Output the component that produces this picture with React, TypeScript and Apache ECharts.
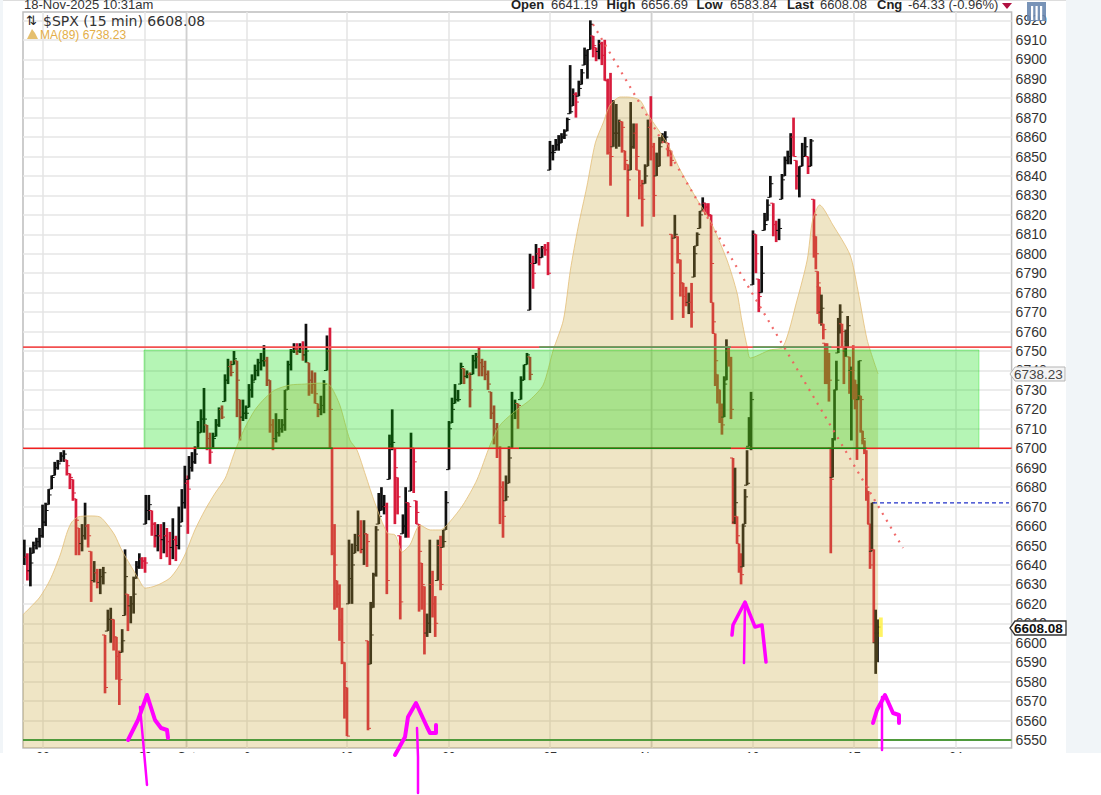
import React, { useEffect, useRef } from "react";
import * as echarts from "echarts";

// x unit: 15-minute bar number counted from Monday 22 Sep (26 bars a session)
const xTickBars = [0, 131, 184, 262, 390, 521, 651, 781, 911, 1041, 1172];
const xTickLabels = ["22", "29", "Oct", "6", "13", "20", "27", "Nov", "10", "17", "24"];
const monthBars = [184, 781];
const yTicks = [6550, 6560, 6570, 6580, 6590, 6600, 6610, 6620, 6630, 6640, 6650, 6660, 6670, 6680, 6690, 6700, 6710, 6720, 6730, 6740, 6750, 6760, 6770, 6780, 6790, 6800, 6810, 6820, 6830, 6840, 6850, 6860, 6870, 6880, 6890, 6900, 6910, 6920];

// MA(89): [bar, value]
const ma89 = [[-26, 6614.3], [-17, 6617.9], [-4, 6623.5], [9, 6632.3], [22, 6645.1], [31, 6656.9], [37, 6662.1], [45, 6664.7], [60, 6665.2], [73, 6664.7], [83, 6660.5], [92, 6655.4], [101, 6647.7], [112, 6640], [122, 6633.3], [131, 6628.1], [140, 6628.7], [150, 6630.2], [163, 6633.3], [173, 6638.4], [182, 6645.1], [195, 6658], [208, 6668.3], [221, 6677], [234, 6684.7], [246, 6698.1], [259, 6710.4], [272, 6719.7], [285, 6725.8], [298, 6730], [317, 6732.5], [336, 6733], [356, 6733.5], [368, 6732.5], [381, 6722.2], [394, 6704.2], [403, 6699.1], [414, 6686.2], [426, 6671.9], [442, 6656.4], [452, 6655.4], [461, 6646.7], [471, 6650.3], [484, 6660.5], [497, 6658], [510, 6658], [522, 6662.1], [539, 6670.8], [557, 6683.7], [574, 6701.7], [587, 6712], [608, 6719.7], [625, 6724.8], [642, 6732.5], [655, 6750.5], [668, 6765.9], [677, 6791.6], [687, 6813.8], [698, 6834.3], [709, 6857], [719, 6867.2], [728, 6876.5], [741, 6880.6], [750, 6880.6], [766, 6879], [777, 6871.3], [801, 6857], [818, 6843.1], [840, 6827.6], [856, 6817.4], [878, 6796.8], [891, 6779.8], [897, 6765.9], [904, 6752.1], [908, 6746.4], [933, 6750.5], [950, 6752.1], [968, 6776.2], [981, 6796.8], [988, 6817.4], [997, 6825.1], [1014, 6814.8], [1036, 6799.4], [1046, 6781.4], [1058, 6755.7], [1072, 6738.23]];

// Price runs: rows are [close, high, low]
const runA = [[6644, 6653, 6640], [6637, 6646, 6632], [6641, 6649, 6629], [6650, 6652, 6646], [6652, 6654, 6648], [6655, 6659, 6649], [6662, 6671, 6654], [6668, 6672, 6660], [6676, 6679, 6671], [6685, 6686, 6679], [6690, 6693, 6686], [6692, 6694, 6689], [6696, 6698, 6693], [6697, 6699, 6693], [6691, 6694, 6686], [6685, 6687, 6679], [6677, 6684, 6673], [6663, 6674, 6645], [6651, 6659, 6645], [6655, 6661, 6647], [6660, 6672, 6653], [6655, 6661, 6649], [6632, 6647, 6621], [6636, 6642, 6631], [6631, 6638, 6628], [6634, 6638, 6625], [6636, 6639, 6630]];
const runB = [[6577, 6604, 6574], [6612, 6617, 6606], [6612, 6618, 6600], [6603, 6612, 6596], [6593, 6603, 6581], [6581, 6596, 6568], [6601, 6607, 6595], [6634, 6648, 6614], [6619, 6625, 6606], [6620, 6624, 6610], [6625, 6634, 6615], [6639, 6642, 6633], [6643, 6646, 6638], [6642, 6644, 6638], [6641, 6644, 6636]];
const runC = [[6668, 6676, 6661], [6671, 6676, 6663], [6661, 6668, 6655], [6655, 6662, 6649], [6655, 6661, 6647], [6653, 6661, 6643], [6655, 6662, 6646], [6652, 6659, 6644], [6649, 6657, 6640], [6653, 6664, 6643], [6650, 6655, 6642], [6660, 6670, 6648], [6672, 6679, 6662], [6682, 6691, 6669], [6679, 6686, 6656]];
const runD = [[6690, 6696, 6684], [6693, 6698, 6688], [6697, 6701, 6692], [6708, 6714, 6700], [6715, 6720, 6708], [6715, 6731, 6708], [6705, 6712, 6699], [6698, 6708, 6692], [6705, 6708, 6700], [6712, 6715, 6706], [6720, 6721, 6711], [6716, 6722, 6715], [6735, 6738, 6724], [6742, 6746, 6733], [6739, 6745, 6737], [6746, 6750, 6743], [6735, 6745, 6716], [6716, 6725, 6704], [6718, 6725, 6714], [6718, 6722, 6715], [6730, 6733, 6721], [6734, 6738, 6726], [6740, 6743, 6735], [6744, 6746, 6737], [6745, 6749, 6740], [6745, 6753, 6742], [6735, 6747, 6732], [6712, 6735, 6708], [6705, 6715, 6699], [6708, 6718, 6703], [6710, 6715, 6706], [6712, 6715, 6708], [6720, 6730, 6709], [6743, 6745, 6730], [6750, 6751, 6740], [6751, 6754, 6749], [6750, 6754, 6748], [6752, 6754, 6749], [6748, 6755, 6745], [6750, 6764, 6744], [6735, 6744, 6727], [6733, 6740, 6728], [6728, 6739, 6723], [6720, 6723, 6716], [6722, 6727, 6717], [6733, 6735, 6718], [6750, 6758, 6740], [6720, 6762, 6700]];
const runE = [[6646, 6700, 6645], [6640, 6661, 6617], [6625, 6632, 6618], [6612, 6630, 6601], [6600, 6618, 6589], [6580, 6590, 6561], [6552, 6577, 6552]];
const runF = [[6633, 6653, 6620], [6640, 6651, 6620], [6650, 6656, 6646], [6655, 6668, 6647], [6648, 6663, 6646], [6656, 6663, 6640], [6652, 6656, 6639]];
const runG = [[6556, 6601, 6555], [6604, 6621, 6589], [6635, 6636, 6618], [6658, 6660, 6634], [6665, 6677, 6661], [6670, 6680, 6668], [6670, 6676, 6666], [6632, 6672, 6625], [6702, 6707, 6684], [6703, 6720, 6699], [6690, 6700, 6661], [6675, 6685, 6666], [6621, 6655, 6612], [6660, 6666, 6656], [6672, 6680, 6654], [6670, 6672, 6654], [6700, 6708, 6678], [6693, 6700, 6677], [6667, 6673, 6661], [6647, 6661, 6616], [6630, 6641, 6617], [6605, 6629, 6594], [6610, 6615, 6603], [6630, 6653, 6605], [6620, 6637, 6613], [6610, 6624, 6603], [6650, 6653, 6632], [6630, 6655, 6627], [6652, 6658, 6649], [6672, 6678, 6658]];
const runH = [[6710, 6714, 6689], [6720, 6726, 6713], [6725, 6733, 6723], [6725, 6730, 6724], [6742, 6744, 6733], [6737, 6741, 6733], [6738, 6740, 6736], [6730, 6739, 6721], [6745, 6748, 6738], [6747, 6749, 6741], [6744, 6752, 6737], [6742, 6746, 6737], [6738, 6745, 6735], [6733, 6740, 6730], [6718, 6729, 6715], [6710, 6722, 6702], [6700, 6713, 6695], [6680, 6701, 6661], [6665, 6683, 6654], [6675, 6686, 6673], [6695, 6701, 6682], [6718, 6729, 6700], [6723, 6725, 6715], [6722, 6723, 6710], [6735, 6737, 6725], [6743, 6743, 6735], [6748, 6749, 6743], [6738, 6747, 6735]];
const runI = [[6795, 6800, 6771], [6790, 6799, 6782], [6800, 6805, 6795], [6798, 6803, 6794], [6803, 6804, 6798], [6802, 6805, 6799], [6790, 6806, 6789]];
const runJ = [[6852, 6858, 6843], [6852, 6856, 6848], [6856, 6859, 6853], [6857, 6861, 6853], [6860, 6862, 6857], [6861, 6864, 6859], [6869, 6870, 6863], [6873, 6897, 6872], [6882, 6885, 6876], [6878, 6883, 6870], [6885, 6889, 6881], [6893, 6895, 6887], [6902, 6906, 6897], [6905, 6905, 6890], [6918, 6920, 6905], [6907, 6912, 6901], [6904, 6906, 6899], [6908, 6910, 6900], [6902, 6909, 6897], [6889, 6910, 6889], [6852, 6890, 6851], [6850, 6893, 6835], [6862, 6879, 6855], [6862, 6877, 6854], [6868, 6869, 6855], [6865, 6868, 6852], [6848, 6853, 6843], [6838, 6846, 6819], [6855, 6878, 6843], [6862, 6867, 6854], [6850, 6867, 6843], [6835, 6843, 6828], [6828, 6838, 6814], [6840, 6846, 6836], [6865, 6869, 6845], [6855, 6881, 6848], [6830, 6857, 6819], [6845, 6852, 6840], [6855, 6860, 6845], [6860, 6862, 6857], [6860, 6863, 6857], [6853, 6857, 6850], [6848, 6853, 6845]];
const runK = [[6790, 6810, 6766], [6810, 6820, 6808], [6800, 6809, 6795], [6785, 6797, 6778], [6778, 6785, 6767], [6775, 6783, 6773], [6775, 6780, 6769], [6770, 6785, 6762], [6800, 6804, 6788], [6810, 6811, 6804], [6820, 6822, 6813], [6826, 6829, 6822], [6824, 6826, 6820], [6820, 6826, 6819], [6795, 6820, 6775]];
const runL = [[6765, 6775, 6759], [6745, 6759, 6732], [6730, 6738, 6723], [6720, 6730, 6713], [6712, 6723, 6707], [6733, 6737, 6716], [6750, 6756, 6735], [6745, 6752, 6742], [6720, 6747, 6715]];
const runM = [[6662, 6695, 6661], [6672, 6690, 6661], [6655, 6665, 6651], [6638, 6651, 6636], [6635, 6646, 6630], [6660, 6661, 6639], [6675, 6679, 6661], [6682, 6699, 6681], [6710, 6716, 6701], [6725, 6729, 6699]];
const runN = [[6810, 6812, 6784], [6800, 6810, 6790], [6778, 6787, 6770], [6790, 6804, 6780], [6815, 6821, 6812], [6825, 6828, 6817], [6836, 6840, 6829], [6815, 6826, 6809], [6812, 6817, 6806], [6813, 6818, 6807], [6838, 6841, 6828], [6848, 6850, 6840], [6850, 6853, 6846], [6860, 6862, 6846], [6850, 6870, 6850], [6840, 6848, 6833], [6845, 6845, 6829], [6850, 6857, 6845], [6855, 6860, 6850], [6845, 6850, 6841], [6858, 6859, 6845]];
const runO = [[6820, 6828, 6798], [6800, 6809, 6792], [6785, 6791, 6769], [6770, 6783, 6764], [6772, 6779, 6763], [6761, 6764, 6756], [6750, 6754, 6733], [6745, 6754, 6733], [6735, 6749, 6724], [6684, 6700, 6646], [6705, 6705, 6685], [6730, 6730, 6704], [6735, 6745, 6730], [6762, 6767, 6749], [6770, 6774, 6759], [6760, 6764, 6752], [6750, 6752, 6733], [6755, 6761, 6747], [6763, 6768, 6752], [6740, 6747, 6728], [6740, 6742, 6704], [6735, 6753, 6725], [6730, 6735, 6720], [6725, 6733, 6694], [6745, 6745, 6725], [6725, 6727, 6708], [6705, 6709, 6702], [6700, 6704, 6697], [6680, 6699, 6673], [6661, 6678, 6661], [6640, 6661, 6638], [6672, 6672, 6647], [6600, 6648, 6600], [6605, 6617, 6584], [6608.08, 6612, 6590]];

// each run: rows, first bar number, bars between rows
const runs: [number[][], number, number][] = [
  [runA, -24, 3.9], [runB, 79.6, 3.67], [runC, 132, 3.85], [runD, 187.4, 3.85], [runE, 371, 3.2], [runF, 392.8, 3.85],
  [runG, 417.2, 3.45], [runH, 521.2, 3.85], [runI, 625.2, 3.85], [runJ, 650.8, 3.7], [runK, 807.5, 3.58], [runL, 860, 2.89],
  [runM, 885.8, 2.57], [runN, 911.4, 3.72], [runO, 989.7, 2.4],
];

const support = 6550;
const zoneLow = 6700;
const zoneHigh = 6752;
const zoneBox = [129.7, 1201.5, 6700, 6750.5];
const trend = [[706, 6918], [1104, 6648.7]];
const lastOpenLevel = [[1065.5, 6671.9], [1240, 6671.9]];
const lowGreenStretches = [[197, 372], [611, 883], [902, 1057]];
const highGreenStretches = [[637, 883], [911, 1012]];
const barEnd = 1074;
const lastBarBand = [1073, 1078, 6603, 6613];

const xMin = -25.7, xMax = 1243.4, yMin = 6545.89, yMax = 6924.3;

function buildBars() {
  const out: number[][] = [];
  let prev = runA[0][0];
  runs.forEach(([rows, start, step]) => {
    rows.forEach((r, i) => {
      const [c, h, l] = r;
      const o = Math.min(h, Math.max(l, prev));
      out.push([start + i * step, o, c, h, l]);
      prev = c;
    });
  });
  return out;
}

function hSeries(points: number[][], color: string, width: number, z: number, type: any = "solid") {
  return {
    type: "line", data: points, z, silent: true, showSymbol: false, symbol: "none",
    lineStyle: { color, width, type }, connectNulls: false,
  };
}
function stretches(list: number[][], level: number) {
  const pts: any[] = [];
  list.forEach(([a, b]) => { pts.push([a, level], [b, level], [b, null]); });
  return pts;
}

function arrow(pts: number[][], width: number) {
  return { type: "polyline", z: 100, shape: { points: pts }, style: { stroke: "#ff00ff", lineWidth: width, fill: "none", lineJoin: "round", lineCap: "round" } };
}
function txt(text: string, x: number, y: number, font: string, fill: string, z = 90, extra: any = {}) {
  return { type: "text", z, style: { text, x, y, font, fill, verticalAlign: "middle", ...extra } };
}
const HEAD = '13px "Liberation Sans", Arial, sans-serif';
const HEADB = 'bold 13px "Liberation Sans", Arial, sans-serif';

export default function App() {
  const ref = useRef<HTMLDivElement>(null);
  useEffect(() => {
    const chart = echarts.init(ref.current!, null, { renderer: "svg" });
    chart.setOption({
      animation: false,
      backgroundColor: "#ffffff",
      grid: { left: 23, right: 89.4, top: 12, bottom: 47, show: true, borderColor: "#bdbdbd", borderWidth: 1.5, backgroundColor: "transparent" },
      xAxis: {
        type: "value", min: xMin, max: xMax,
        axisLine: { show: false },
        axisTick: { show: false, customValues: xTickBars },
        axisLabel: { customValues: xTickBars, margin: 3, fontSize: 12, color: "#333", fontFamily: '"Liberation Sans", Arial, sans-serif', formatter: (v: number) => xTickLabels[xTickBars.indexOf(v)] ?? "", hideOverlap: false, showMinLabel: true, showMaxLabel: true },
        splitLine: { show: true, lineStyle: { color: "#e5e5e5", width: 1.5 } },
      },
      yAxis: {
        type: "value", position: "right", min: yMin, max: yMax,
        axisLine: { show: false },
        axisTick: { show: false, customValues: yTicks },
        axisLabel: { customValues: yTicks, margin: 4, fontSize: 14, color: "#333", fontFamily: '"Liberation Sans", Arial, sans-serif', formatter: (v: number) => String(v) },
        splitLine: { show: true, lineStyle: { color: "#e6e6e6", width: 1.5 } },
      },
      series: [
        {
          type: "custom", z: 1, silent: true, data: monthBars.map((m) => [m]),
          renderItem: (_p: any, api: any) => {
            const a = api.coord([api.value(0), yMin]);
            const b = api.coord([api.value(0), yMax]);
            return { type: "line", shape: { x1: a[0], y1: a[1], x2: b[0], y2: b[1] }, style: { stroke: "#d0d0d0", lineWidth: 1.5 } };
          },
        },
        {
          type: "custom", z: 2, silent: true, data: buildBars(), clip: true,
          encode: { x: 0, y: [1, 2, 3, 4] },
          renderItem: (_p: any, api: any) => {
            const x = api.value(0), o = api.value(1), c = api.value(2), h = api.value(3), l = api.value(4);
            const up = c >= o;
            const color = up ? "#101010" : "#d81c3c";
            const pH = api.coord([x, h]), pL = api.coord([x, l]), pO = api.coord([x, o]), pC = api.coord([x, c]);
            const st = (w: number) => ({ stroke: color, lineWidth: w });
            return {
              type: "group",
              children: [
                { type: "line", shape: { x1: pH[0], y1: pH[1], x2: pL[0], y2: pL[1] }, style: st(2.7) },
                { type: "line", shape: { x1: pO[0] - 3, y1: pO[1], x2: pO[0], y2: pO[1] }, style: st(1) },
                { type: "line", shape: { x1: pC[0], y1: pC[1], x2: pC[0] + 3, y2: pC[1] }, style: st(1) },
              ],
            };
          },
        },
        {
          type: "line", z: 3, silent: true, data: ma89, showSymbol: false, symbol: "none", smooth: 0.25,
          lineStyle: { color: "rgba(228,190,120,0.8)", width: 1 },
          areaStyle: { color: "rgba(200,165,55,0.29)", origin: "start", opacity: 1 },
        },
        {
          type: "custom", z: 4, silent: true, data: [zoneBox],
          renderItem: (_p: any, api: any) => {
            const a = api.coord([api.value(0), api.value(3)]);
            const b = api.coord([api.value(1), api.value(2)]);
            return { type: "rect", shape: { x: a[0], y: a[1], width: b[0] - a[0], height: b[1] - a[1] }, style: { fill: "rgba(0,220,0,0.29)", stroke: "rgba(0,225,0,0.35)", lineWidth: 1 } };
          },
        },
        {
          type: "custom", z: 4, silent: true, data: [[barEnd, ...lastBarBand]],
          renderItem: (_p: any, api: any) => {
            const a = api.coord([api.value(1), api.value(4)]);
            const b = api.coord([api.value(2), api.value(3)]);
            return { type: "rect", shape: { x: a[0], y: a[1], width: b[0] - a[0], height: b[1] - a[1] }, style: { fill: "rgba(255,240,60,0.8)" } };
          },
        },
        hSeries([[xMin, zoneHigh], [xMax, zoneHigh]], "#f25050", 1.6, 5),
        hSeries([[xMin, zoneLow], [xMax, zoneLow]], "#f02020", 1.5, 5),
        hSeries(stretches(highGreenStretches, zoneHigh), "#5c9f5c", 1.8, 6),
        hSeries(stretches(lowGreenStretches, zoneLow), "#0f8a0f", 1.5, 6),
        hSeries([[xMin, support], [xMax, support]], "#4f9a3c", 2.2, 6),
        hSeries(trend, "rgba(240,90,90,0.9)", 2.2, 7, [2, 6]),
        hSeries(lastOpenLevel, "#2030c8", 1.3, 7, [4, 3]),
      ],
      graphic: { elements: [
        { type: "rect", z: 80, shape: { x: 0, y: 753, width: 1101, height: 42 }, style: { fill: "#ffffff" } },
        { type: "rect", z: 80, shape: { x: 1066, y: 0, width: 35, height: 753 }, style: { fill: "#f1f5f8" } },
        { type: "rect", z: 80, shape: { x: 0, y: 0, width: 3, height: 753 }, style: { fill: "#f1f5f8" } },
        { type: "rect", z: 85, shape: { x: 3, y: 0, width: 1063, height: 1 }, style: { fill: "#dddddd" } },
        txt("18-Nov-2025 10:31am", 24, 4, HEAD, "#333"),
        txt("Open", 511, 4, HEADB, "#222"), txt("6641.19", 551, 4, HEAD, "#333"),
        txt("High", 606.5, 4, HEADB, "#222"), txt("6656.69", 641, 4, HEAD, "#333"),
        txt("Low", 696.5, 4, HEADB, "#222"), txt("6583.84", 730, 4, HEAD, "#333"),
        txt("Last", 787, 4, HEADB, "#222"), txt("6608.08", 820, 4, HEAD, "#333"),
        txt("Cng", 877, 4, HEADB, "#222"), txt("-64.33 (-0.96%)", 908, 4, HEAD, "#333"),
        { type: "polygon", z: 90, shape: { points: [[1002, 3], [1012, 3], [1007, 9]] }, style: { fill: "#b01040" } },
        { type: "rect", z: 91, shape: { x: 1027, y: 2, width: 19, height: 19 }, style: { fill: "rgba(105,135,175,0.9)" } },
        { type: "rect", z: 92, shape: { x: 1031, y: 6, width: 2.2, height: 14 }, style: { fill: "#ffffff" } },
        { type: "rect", z: 92, shape: { x: 1035.5, y: 6, width: 2.2, height: 14 }, style: { fill: "#ffffff" } },
        { type: "rect", z: 92, shape: { x: 1040, y: 6, width: 2.2, height: 14 }, style: { fill: "#ffffff" } },
        txt("\u21C5", 26, 20, '13px "DejaVu Sans", sans-serif', "#222"),
        txt("$SPX (15 min) 6608.08", 43, 20.5, '14px "DejaVu Sans", sans-serif', "#333"),
        { type: "polygon", z: 90, shape: { points: [[27, 39], [32, 29], [35, 33], [38, 39]] }, style: { fill: "#e5bf6e" } },
        txt("MA(89) 6738.23", 40, 34.5, '12px "Liberation Sans", Arial, sans-serif', "#e3ae48"),
        { type: "polygon", z: 88, shape: { points: [[1010, 374], [1015, 367], [1065, 367], [1065, 381], [1015, 381]] }, style: { fill: "#f4f4f4", stroke: "#b5b5b5", lineWidth: 1 } },
        txt("6738.23", 1014, 374.5, '13.5px "Liberation Sans", Arial, sans-serif', "#444"),
        { type: "polygon", z: 88, shape: { points: [[1010, 628], [1015, 621], [1066, 621], [1066, 635], [1015, 635]] }, style: { fill: "#ffffff", stroke: "#333333", lineWidth: 1.3 } },
        txt("6608.08", 1014, 628.5, 'bold 13.5px "Liberation Sans", Arial, sans-serif', "#111"),
        arrow([[128, 740], [138, 720], [147, 695], [155, 720], [161, 728], [167, 730], [168, 738]], 4),
        arrow([[140, 707], [143, 740], [147, 785]], 2.5),
        arrow([[395, 755], [405, 737], [408, 717], [416, 703], [427, 727], [430, 733], [436, 733], [436, 725]], 4),
        arrow([[417, 728], [418, 757], [418, 793]], 2.5),
        arrow([[732, 635], [733, 625], [745, 602], [755, 627], [762, 625], [766, 662]], 3.5),
        arrow([[745, 603], [744, 663]], 2.5),
        arrow([[873, 723], [877, 710], [885, 695], [893, 713], [899, 715], [899, 723]], 4),
        arrow([[882, 697], [882, 750]], 2.5),
      ] },
    });
    return () => chart.dispose();
  }, []);
  return <div ref={ref} style={{ position: "fixed", left: 0, top: 0, width: 1101, height: 795 }} />;
}
